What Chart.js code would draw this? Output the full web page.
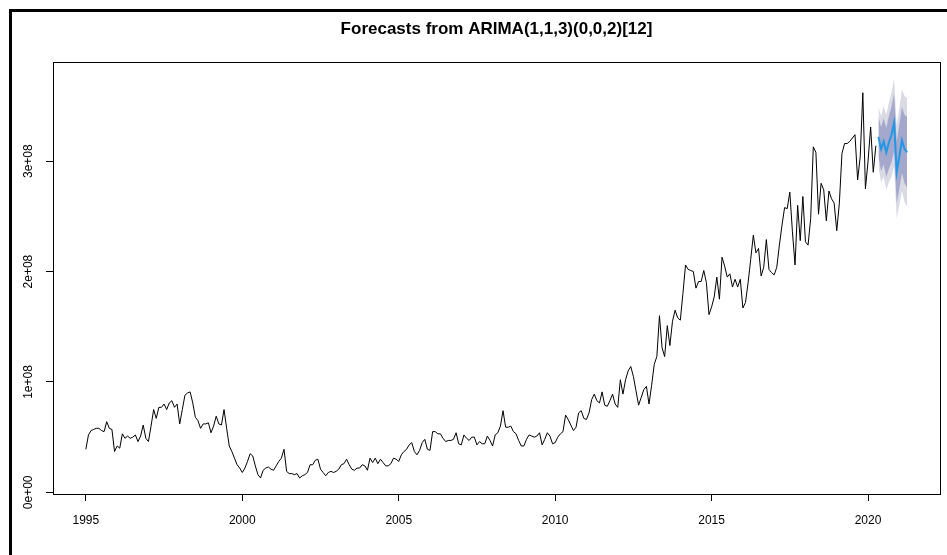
<!DOCTYPE html>
<html>
<head>
<meta charset="utf-8">
<script src="https://cdn.jsdelivr.net/npm/chart.js@4.4.1/dist/chart.umd.min.js"></script>
<style>
  html, body { margin: 0; padding: 0; background: #fff; }
  #wrap { position: relative; width: 947px; height: 555px; overflow: hidden; background: #fff; }
  #grafico { position: absolute; left: 0; top: 0; }
  /* moldura preta da janela (só topo e esquerda) */
  #frame { position: absolute; left: 9px; top: 9px; right: 0; bottom: 0;
           border-left: 3px solid #000; border-top: 3px solid #000; pointer-events: none; }
</style>
</head>
<body>
<div id="wrap">
  <canvas id="grafico" width="947" height="555"></canvas>
  <div id="frame"></div>
</div>
<script>
// DADOS (em milhões) — série mensal de jan/1995 até abr/2020
const anoInicio = 1995;
const serie = [
  39, 52, 56, 57, 58, 58, 56, 55, 64, 58, 57, 37,          // 1995
  42, 40, 53, 49, 51, 49, 50, 52, 46, 51, 61, 49,          // 1996
  46, 60, 75, 67, 77, 77, 80, 75, 81, 83, 77, 80,          // 1997
  62, 75, 88, 90, 91, 81, 68, 65, 58, 62, 62, 63,          // 1998
  54, 60, 69, 62, 61, 75, 58, 42, 37, 31, 25, 22,          // 1999
  18, 22, 28, 35, 33, 24, 16, 13, 20, 22, 23, 21,          // 2000
  20, 24, 28, 31, 39, 19, 17, 17, 16, 17, 13, 15,          // 2001
  16, 18, 25, 25, 29, 30, 21, 18, 15, 18, 19, 18,          // 2002
  19, 21, 25, 26, 30, 25, 21, 20, 22, 22, 25, 24,          // 2003
  20, 31, 27, 31, 26, 30, 27, 24, 24, 26, 31, 30,          // 2004
  28, 34, 37, 39, 43, 45, 37, 34, 38, 45, 48, 39,          // 2005
  38, 55, 55, 53, 53, 49, 46, 47, 47, 48, 54, 44,          // 2006
  43, 52, 49, 47, 50, 50, 43, 46, 44, 44, 51, 47,          // 2007
  42, 52, 54, 60, 74, 59, 59, 60, 55, 53, 47, 42,          // 2008
  42, 48, 52, 51, 50, 51, 54, 43, 48, 54, 51, 44,          // 2009
  45, 50, 53, 55, 70, 66, 61, 56, 59, 72, 74, 67,          // 2010
  66, 72, 84, 89, 83, 81, 91, 79, 78, 83, 89, 80,          // 2011
  77, 102, 89, 102, 110, 114, 105, 92, 79, 86, 93, 96,     // 2012
  80, 97, 116, 123, 160, 131, 123, 151, 133, 155, 165, 158, // 2013
  156, 180, 206, 202, 201, 200, 185, 191, 191, 201, 190, 161, // 2014
  168, 177, 195, 175, 213, 205, 195, 198, 186, 193, 186, 193, // 2015
  167, 172, 190, 211, 233, 217, 221, 196, 204, 229, 202, 199, // 2016
  197, 204, 224, 242, 258, 257, 272, 236, 206, 260, 228, 268, // 2017
  227, 224, 248, 313, 308, 252, 280, 274, 246, 273, 266, 262, // 2018
  237, 262, 307, 316, 316, 318, 321, 324, 283, 304, 362, 275, // 2019
  300, 331, 290, 314                                         // 2020
];

// previsão mai/2020 - abr/2021 e intervalos 80% / 95%
const previsao = [322, 311, 318, 308, 317, 324, 335, 290, 304, 319, 311, 308];
const inf80 = [304, 291, 297, 286, 293, 299, 309, 262, 275, 289, 280, 276];
const sup80 = [340, 331, 339, 330, 341, 349, 361, 318, 333, 349, 342, 340];
const inf95 = [295, 281, 286, 274, 281, 286, 295, 248, 260, 273, 263, 259];
const sup95 = [349, 341, 350, 342, 353, 362, 375, 332, 348, 365, 359, 357];

const anosEixo = [1995, 2000, 2005, 2010, 2015, 2020];
const valoresY = [0, 100, 200, 300];
const rotulosY = ['0e+00', '1e+08', '2e+08', '3e+08'];

// monta os pontos {x: ano decimal, y}
const mes = i => anoInicio + i / 12;
const pontosSerie = serie.map((v, i) => ({ x: mes(i), y: v }));
const n = serie.length;
const pts = arr => arr.map((v, k) => ({ x: mes(n + k), y: v }));

const fonte = '"Liberation Sans", Arial, sans-serif';

// caixa em volta da área do gráfico (estilo R)
const caixa = {
  id: 'caixa',
  afterDraw(chart) {
    const { ctx, chartArea: a } = chart;
    ctx.save();
    ctx.strokeStyle = '#000';
    ctx.lineWidth = 1;
    ctx.strokeRect(Math.round(a.left) + 0.5, Math.round(a.top) + 0.5,
                   Math.round(a.width), Math.round(a.height));
    ctx.restore();
  }
};

const semBorda = 'rgba(0,0,0,0)';

new Chart(document.getElementById('grafico'), {
  type: 'line',
  data: {
    datasets: [
      { data: pontosSerie, borderColor: '#000', borderWidth: 1, pointRadius: 0, fill: false, order: 0 },
      { data: pts(previsao), borderColor: '#2297E6', borderWidth: 2, pointRadius: 0, fill: false, order: 1 },
      { data: pts(sup80), borderColor: semBorda, borderWidth: 0, pointRadius: 0,
        fill: '+1', backgroundColor: '#A5A8CD', order: 2 },
      { data: pts(inf80), borderColor: semBorda, borderWidth: 0, pointRadius: 0, fill: false, order: 2 },
      { data: pts(sup95), borderColor: semBorda, borderWidth: 0, pointRadius: 0,
        fill: '+1', backgroundColor: '#DADAE4', order: 3 },
      { data: pts(inf95), borderColor: semBorda, borderWidth: 0, pointRadius: 0, fill: false, order: 3 }
    ]
  },
  options: {
    responsive: false,
    animation: false,
    devicePixelRatio: 1,
    elements: { line: { tension: 0 } },
    layout: { padding: { left: 0, right: 7, top: 0, bottom: 0 } },
    plugins: {
      legend: { display: false },
      tooltip: { enabled: false },
      title: {
        display: true,
        fullSize: false,
        text: 'Forecasts from ARIMA(1,1,3)(0,0,2)[12]',
        color: '#000',
        font: { family: fonte, size: 17, weight: 'bold', lineHeight: 1.2 },
        padding: { top: 19, bottom: 23 }
      }
    },
    scales: {
      x: {
        type: 'linear',
        min: 1993.95,
        max: 2022.3,
        afterBuildTicks: s => { s.ticks = anosEixo.map(v => ({ value: v })); },
        afterFit: s => { s.height = 61; },
        grid: { display: true, drawOnChartArea: false, drawTicks: true, tickLength: 7, color: '#000' },
        border: { display: false },
        ticks: {
          color: '#000',
          font: { family: fonte, size: 12 },
          padding: 12,
          maxRotation: 0,
          autoSkip: false,
          callback: v => String(v)
        }
      },
      y: {
        type: 'linear',
        min: -1.5,
        max: 389.5,
        afterBuildTicks: s => { s.ticks = valoresY.map(v => ({ value: v })); },
        afterFit: s => { s.width = 53; },
        grid: { display: true, drawOnChartArea: false, drawTicks: true, tickLength: 7, color: '#000' },
        border: { display: false },
        ticks: {
          color: '#000',
          font: { family: fonte, size: 12 },
          padding: 0,
          minRotation: 90,
          maxRotation: 90,
          crossAlign: 'center',
          autoSkip: false,
          callback: (v, i) => rotulosY[i]
        }
      }
    }
  },
  plugins: [caixa]
});
</script>
</body>
</html>
